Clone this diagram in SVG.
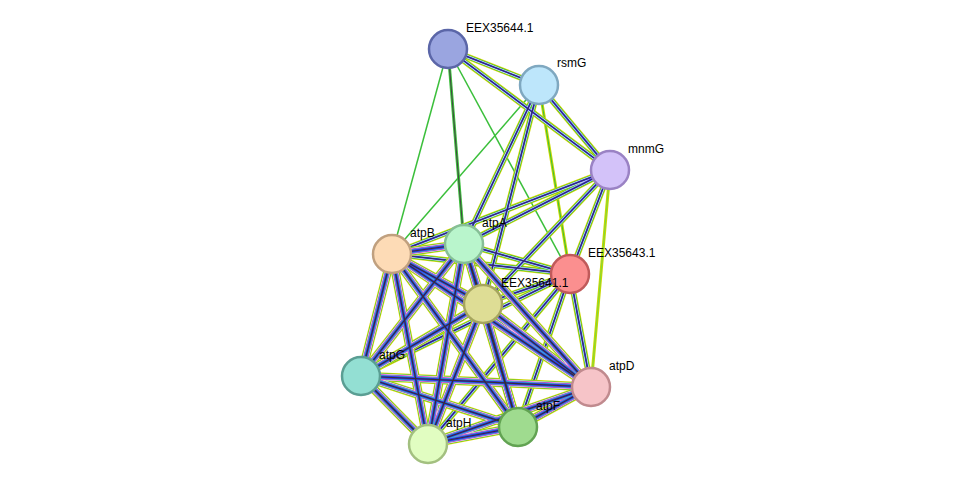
<svg xmlns="http://www.w3.org/2000/svg" xmlns:xlink="http://www.w3.org/1999/xlink" width="975" height="490" viewBox="0 0 975 490">
<style>
text{font-family:"Liberation Sans",Arial,sans-serif;font-size:12px;fill:#000}
.n{stroke-width:2.5}
line{fill:none}
</style>
<defs>
<g id="rich">
<line x1="392" y1="254" x2="464" y2="244"/><line x1="392" y1="254" x2="483" y2="304"/><line x1="392" y1="254" x2="361" y2="376"/><line x1="392" y1="254" x2="518" y2="427"/><line x1="392" y1="254" x2="428" y2="444"/><line x1="392" y1="254" x2="591" y2="387"/>
<line x1="464" y1="244" x2="483" y2="304"/><line x1="464" y1="244" x2="361" y2="376"/><line x1="464" y1="244" x2="518" y2="427"/><line x1="464" y1="244" x2="428" y2="444"/><line x1="464" y1="244" x2="591" y2="387"/>
<line x1="483" y1="304" x2="361" y2="376"/><line x1="483" y1="304" x2="518" y2="427"/><line x1="483" y1="304" x2="428" y2="444"/><line x1="483" y1="304" x2="591" y2="387"/>
<line x1="361" y1="376" x2="518" y2="427"/><line x1="361" y1="376" x2="428" y2="444"/><line x1="361" y1="376" x2="591" y2="387"/>
<line x1="518" y1="427" x2="428" y2="444"/><line x1="518" y1="427" x2="591" y2="387"/><line x1="428" y1="444" x2="591" y2="387"/>
</g>
<g id="med">
<line x1="448" y1="49" x2="539" y2="85"/><line x1="448" y1="49" x2="610" y2="170"/><line x1="539" y1="85" x2="610" y2="170"/>
<line x1="539" y1="85" x2="464" y2="244"/><line x1="539" y1="85" x2="483" y2="304"/>
<line x1="610" y1="170" x2="392" y2="254"/><line x1="610" y1="170" x2="464" y2="244"/><line x1="610" y1="170" x2="483" y2="304"/><line x1="610" y1="170" x2="570" y2="274"/>
<line x1="570" y1="274" x2="464" y2="244"/><line x1="570" y1="274" x2="392" y2="254"/><line x1="570" y1="274" x2="483" y2="304"/><line x1="570" y1="274" x2="518" y2="427"/><line x1="570" y1="274" x2="591" y2="387"/><line x1="570" y1="274" x2="361" y2="376"/><line x1="570" y1="274" x2="428" y2="444"/>
</g>
</defs>
<rect width="975" height="490" fill="#fff"/>
<g id="connectors">
<line x1="448" y1="49" x2="392" y2="254" stroke="#3bbf3b" stroke-width="1.5"/>
<line x1="448" y1="49" x2="570" y2="274" stroke="#3bbf3b" stroke-width="1.5"/>
<line x1="539" y1="85" x2="392" y2="254" stroke="#3bbf3b" stroke-width="1.5"/>
<line x1="448" y1="49" x2="464" y2="244" stroke="#3bbf3b" stroke-width="3"/>
<line x1="448" y1="49" x2="464" y2="244" stroke="#444" stroke-width="1"/>
<line x1="539" y1="85" x2="570" y2="274" stroke="#c8d800" stroke-width="3"/>
<line x1="539" y1="85" x2="570" y2="274" stroke="#3bbf3b" stroke-width="1"/>
<line x1="610" y1="170" x2="591" y2="387" stroke="#c8d800" stroke-width="3"/>
<line x1="610" y1="170" x2="591" y2="387" stroke="#7ed83b" stroke-width="1"/>
<use xlink:href="#med" stroke="#d6d600" stroke-width="6"/>
<use xlink:href="#med" stroke="#3bbf3b" stroke-width="4.5"/>
<use xlink:href="#med" stroke="#fff" stroke-width="3"/>
<use xlink:href="#med" stroke="#3333ee" stroke-width="2"/>
<use xlink:href="#med" stroke="#333" stroke-width="0.8"/>
<use xlink:href="#rich" stroke="#d6d600" stroke-width="9"/>
<use xlink:href="#rich" stroke="#3bbf3b" stroke-width="7.5"/>
<use xlink:href="#rich" stroke="#fff" stroke-width="6.5"/>
<use xlink:href="#rich" stroke="#cc33cc" stroke-width="5.5"/>
<use xlink:href="#rich" stroke="#33cccc" stroke-width="4"/>
<use xlink:href="#rich" stroke="#3333ee" stroke-width="2.8"/>
<use xlink:href="#rich" stroke="#333" stroke-width="1.2"/>
</g>
<g id="EEX35644.1"><circle class="n" cx="448" cy="49" r="19" fill="#9aa5e0" stroke="#5b66a8"/><text x="466" y="32">EEX35644.1</text></g>
<g id="rsmG"><circle class="n" cx="539" cy="85" r="19" fill="#bde6fb" stroke="#7fa8c0"/><text x="557" y="67">rsmG</text></g>
<g id="mnmG"><circle class="n" cx="610" cy="170" r="19" fill="#d3c2f9" stroke="#9a82c4"/><text x="628" y="153">mnmG</text></g>
<g id="atpB"><circle class="n" cx="392" cy="254" r="19" fill="#fddbb6" stroke="#c0a07f"/><text x="410" y="237">atpB</text></g>
<g id="atpA"><circle class="n" cx="464" cy="244" r="19" fill="#b9f5cc" stroke="#86bf96"/><text x="482" y="227">atpA</text></g>
<g id="EEX35643.1"><circle class="n" cx="570" cy="274" r="19" fill="#fb8f8f" stroke="#c05a5a"/><text x="588" y="257">EEX35643.1</text></g>
<g id="EEX35641.1"><circle class="n" cx="483" cy="304" r="19" fill="#dedd95" stroke="#a6a55e"/><text x="501" y="287">EEX35641.1</text></g>
<g id="atpG"><circle class="n" cx="361" cy="376" r="19" fill="#93dfd3" stroke="#5a9e93"/><text x="379" y="359">atpG</text></g>
<g id="atpD"><circle class="n" cx="591" cy="387" r="19" fill="#f6c4c8" stroke="#c08a8e"/><text x="609" y="370">atpD</text></g>
<g id="atpF"><circle class="n" cx="518" cy="427" r="19" fill="#9fdb8f" stroke="#62a352"/><text x="536" y="410">atpF</text></g>
<g id="atpH"><circle class="n" cx="428" cy="444" r="19" fill="#e1fdc1" stroke="#a3c080"/><text x="446" y="427">atpH</text></g>
</svg>
